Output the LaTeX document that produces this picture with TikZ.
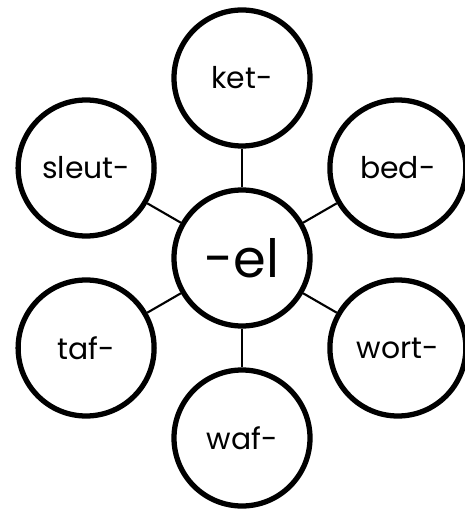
\documentclass[tikz,border=0pt]{standalone}
\usepackage{fontspec}
\setmainfont{Poppins}
\usepackage{tikz}
\usetikzlibrary{positioning}
\tikzset{
  bubble/.style={circle, draw=black, fill=white, line width=3pt,
    minimum size=2.72cm, inner sep=0pt, font=\fontsize{17}{20}\selectfont},
  hub/.style={bubble, font=\fontsize{30}{34}\selectfont},
  link/.style={line width=1.2pt, color=black}
}
\begin{document}
\begin{tikzpicture}

  \useasboundingbox (-4.84,-5.12) rectangle (4.46,5.16);

  % Nodes
  \node[hub] (el) at (0,0) {-el};
  \node[bubble] (ket)   at (90:3.6)  {ket-};
  \node[bubble] (bed)   at (30:3.6)  {bed-};
  \node[bubble] (sleut) at (150:3.6) {sleut-};
  \node[bubble] (taf)   at (210:3.6) {taf-};
  \node[bubble] (wort)  at (330:3.6) {wort-};
  \node[bubble] (waf)   at (270:3.6) {waf-};

  % Lines
  \foreach \n in {ket, bed, sleut, taf, wort, waf}
    \draw[link] (el) -- (\n);

\end{tikzpicture}
\end{document}
